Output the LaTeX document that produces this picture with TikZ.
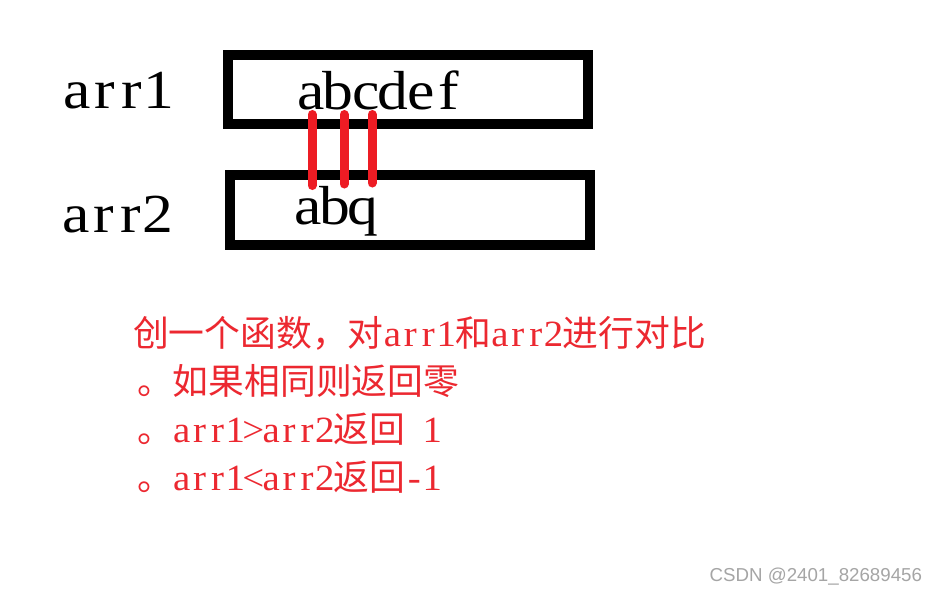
\documentclass[tikz,border=0pt]{standalone}
\usepackage{fontspec}
\newfontfamily\cjkf{Noto Sans CJK SC}
\newfontfamily\serf[FakeStretch=1.12]{Liberation Serif}
\newfontfamily\hserf[FakeStretch=1.05]{Liberation Serif}
\newfontfamily\wmf{Liberation Sans}
\definecolor{paintred}{RGB}{237,28,36}
\definecolor{txtred}{RGB}{236,40,48}
\definecolor{wmgray}{RGB}{165,165,165}
\ExplSyntaxOn
\NewDocumentCommand\fw{m}{\tl_map_inline:nn{#1}{\makebox[27.5pt][c]{##1}}}
\NewDocumentCommand\hwr{m}{{\hserf\fontsize{37}{37}\selectfont\tl_map_inline:nn{#1}{\makebox[17.9pt][c]{##1}}}}
\ExplSyntaxOff
\newcommand\cj[1]{{\cjkf\fontsize{35.8}{35.8}\selectfont #1}}
\newcommand\hsp{\hspace*{17.9pt}}
\tikzset{
  box/.style={draw=black, line width=10pt, minimum width=360pt, inner sep=0pt, outer sep=0pt},
  big/.style={anchor=base west, inner sep=0pt, outer sep=0pt, font=\serf\fontsize{55}{55}\selectfont},
  redtxt/.style={anchor=base west, inner sep=0pt, outer sep=0pt, text=txtred},
  link/.style={draw=paintred, line width=9pt, line cap=round},
  wmark/.style={anchor=base east, inner sep=0pt, outer sep=0pt, text=wmgray, font=\wmf\fontsize{18.7}{18.7}\selectfont}
}
\begin{document}
\begin{tikzpicture}[x=1pt,y=-1pt]
\useasboundingbox[fill=white] (0,0) rectangle (937,592);
% boxes
\node[box, minimum height=69pt] (box1) at (408,89.5) {};
\node[box, minimum height=70pt] (box2) at (410,210) {};
% labels
\node[big] (lab1) at (63,108) {\fw{arr1}};
\node[big] (lab2) at (62,232) {\fw{arr2}};
\node[big] (str1) at (297,109) {\fw{abcdef}};
\node[big] (str2) at (294,224) {\fw{abq}};
% red links
\coordinate (t1) at (312,114.5);
\coordinate (b1) at (312,185.5);
\coordinate (t2) at (344,114.5);
\coordinate (b2) at (344,184);
\coordinate (t3) at (372,114.5);
\coordinate (b3) at (372,183);
\draw[link] (t1) -- (b1);
\draw[link] (t2) -- (b2);
\draw[link] (t3) -- (b3);
% red text
\node[redtxt] (l1) at (133,346) {\cj{创一个函数，对}\hwr{arr1}\cj{和}\hwr{arr2}\cj{进行对比}};
\node[redtxt] (l2) at (137,394) {\cj{。如果相同则返回零}};
\node[redtxt] (l3) at (137,442) {\cj{。}\hwr{arr1>arr2}\cj{返回}\hsp\hwr{1}};
\node[redtxt] (l4) at (137,490) {\cj{。}\hwr{arr1<arr2}\cj{返回}\hwr{-1}};
% watermark
\node[wmark] (wm) at (922,581) {CSDN @2401\_82689456};
\end{tikzpicture}
\end{document}
